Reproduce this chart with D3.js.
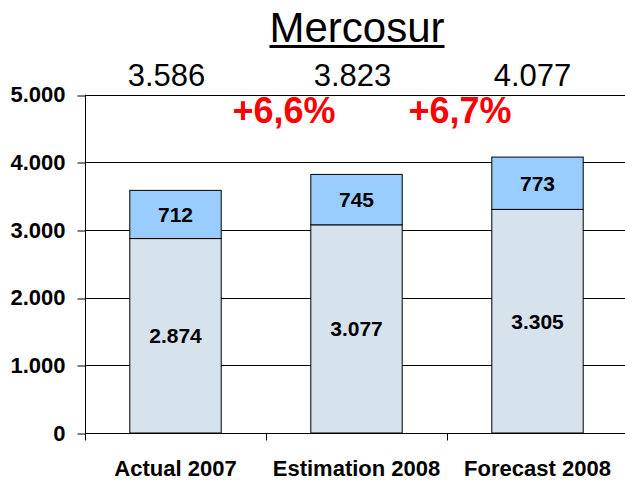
<!DOCTYPE html>
<html>
<head>
<meta charset="utf-8">
<script src="https://cdn.jsdelivr.net/npm/d3@7"></script>
<style>
  html, body { margin: 0; padding: 0; background: #fff; }
  svg { display: block; font-family: "Liberation Sans", Arial, sans-serif; }
</style>
</head>
<body>
<svg id="chart" width="625" height="480"></svg>
<script>
// Mercosur — stacked bars with totals and growth
const categories = ["Actual 2007", "Estimation 2008", "Forecast 2008"];
const baseValues = [2874, 3077, 3305];
const topValues = [712, 745, 773];
const totals = [3586, 3823, 4077];
const growthLabels = ["+6,6%", "+6,7%"];
const yTicks = [0, 1000, 2000, 3000, 4000, 5000];

const svg = d3.select("#chart");
const width = 625;

const locale = d3.formatLocale({ decimal: ",", thousands: ".", grouping: [3], currency: ["", ""] });
const fmt = locale.format(",d");

const x = d3.scaleBand().domain(categories).range([85, 628]).padding(0);
const y = d3.scaleLinear().domain([0, 5000]).range([433, 94.7]);
const barW = x.bandwidth() * 0.505;

// gridlines
svg.append("g")
  .selectAll("line")
  .data(yTicks.filter((d) => d > 0))
  .join("line")
  .attr("x1", 85)
  .attr("x2", width)
  .attr("y1", (d) => Math.round(y(d)) + 0.5)
  .attr("y2", (d) => Math.round(y(d)) + 0.5)
  .attr("stroke", "#000")
  .attr("stroke-width", 1);

// bars
const rows = categories.map((c, i) => ({ c, base: baseValues[i], top: topValues[i], total: totals[i] }));

const bars = svg.append("g").selectAll("g").data(rows).join("g");

bars.append("rect")
  .attr("x", (d) => x(d.c) + (x.bandwidth() - barW) / 2)
  .attr("y", (d) => y(d.base))
  .attr("width", barW)
  .attr("height", (d) => y(0) - y(d.base))
  .attr("fill", "#D6E2EC")
  .attr("stroke", "#000")
  .attr("stroke-width", 1);

bars.append("rect")
  .attr("x", (d) => x(d.c) + (x.bandwidth() - barW) / 2)
  .attr("y", (d) => y(d.base + d.top))
  .attr("width", barW)
  .attr("height", (d) => y(d.base) - y(d.base + d.top))
  .attr("fill", "#99CCFF")
  .attr("stroke", "#000")
  .attr("stroke-width", 1);

bars.append("text")
  .attr("x", (d) => x(d.c) + x.bandwidth() / 2)
  .attr("y", (d) => (y(0) + y(d.base)) / 2)
  .attr("dy", "0.35em")
  .attr("text-anchor", "middle")
  .attr("font-size", 21)
  .attr("font-weight", "bold")
  .text((d) => fmt(d.base));

bars.append("text")
  .attr("x", (d) => x(d.c) + x.bandwidth() / 2)
  .attr("y", (d) => (y(d.base) + y(d.base + d.top)) / 2)
  .attr("dy", "0.35em")
  .attr("text-anchor", "middle")
  .attr("font-size", 21)
  .attr("font-weight", "bold")
  .text((d) => fmt(d.top));

// totals above plot (slightly left of bar centre, as in the slide)
const totalShift = [-9, -4, -5];
svg.append("g")
  .selectAll("text")
  .data(rows)
  .join("text")
  .attr("x", (d, i) => x(d.c) + x.bandwidth() / 2 + totalShift[i])
  .attr("y", 86)
  .attr("text-anchor", "middle")
  .attr("font-size", 31)
  .text((d) => fmt(d.total));

// growth labels between bars
const growthShift = [18, 13];
svg.append("g")
  .selectAll("text")
  .data(growthLabels)
  .join("text")
  .attr("x", (d, i) => x(categories[i + 1]) + growthShift[i])
  .attr("y", 123)
  .attr("text-anchor", "middle")
  .attr("font-size", 36)
  .attr("font-weight", "bold")
  .attr("fill", "#FF0000")
  .text((d) => d);

// y axis
const yAxis = svg.append("g")
  .attr("transform", "translate(85.5,0)")
  .call(d3.axisLeft(y).tickValues(yTicks).tickSize(8).tickPadding(12).tickFormat(fmt));
yAxis.selectAll("path, line").attr("stroke", "#000");
yAxis.selectAll("line").attr("transform", (d) => `translate(0,${Math.round(y(d)) + 0.5 - y(d)})`);
yAxis.selectAll("text")
  .attr("font-size", 22)
  .attr("font-weight", "bold")
  .attr("font-family", "Liberation Sans, Arial, sans-serif")
  .attr("fill", "#000");
yAxis.select(".domain").attr("d", `M0,${y(5000)}V${y(0)}`);

// x axis
const xLine = Math.round(y(0)) + 0.5;
svg.append("line")
  .attr("x1", 85).attr("x2", width)
  .attr("y1", xLine).attr("y2", xLine)
  .attr("stroke", "#000");
svg.append("g")
  .selectAll("line")
  .data(categories)
  .join("line")
  .attr("x1", (d) => Math.round(x(d)) + 0.5)
  .attr("x2", (d) => Math.round(x(d)) + 0.5)
  .attr("y1", xLine)
  .attr("y2", xLine + 7)
  .attr("stroke", "#000");

svg.append("g")
  .selectAll("text")
  .data(categories)
  .join("text")
  .attr("x", (d) => x(d) + x.bandwidth() / 2)
  .attr("y", 476)
  .attr("text-anchor", "middle")
  .attr("font-size", 22)
  .attr("font-weight", "bold")
  .text((d) => d);

// title
const title = svg.append("text")
  .attr("x", 357)
  .attr("y", 42)
  .attr("text-anchor", "middle")
  .attr("font-size", 42)
  .text("Mercosur");
const tb = title.node().getBBox();
svg.append("rect")
  .attr("x", tb.x)
  .attr("y", 45)
  .attr("width", tb.width)
  .attr("height", 3)
  .attr("fill", "#000");
</script>
</body>
</html>
